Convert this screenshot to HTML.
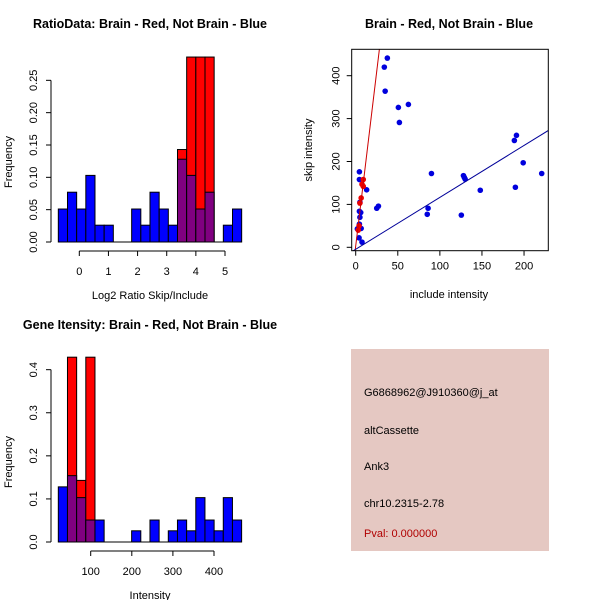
<!DOCTYPE html>
<html><head><meta charset="utf-8"><style>
body{margin:0;background:#fff}
svg{display:block;font-family:"Liberation Sans",sans-serif}
</style></head><body>
<svg id="s" width="600" height="600" xmlns="http://www.w3.org/2000/svg">
<rect width="600" height="600" fill="#fff"/>
<text x="150" y="28" font-size="12.5" font-weight="bold" text-anchor="middle">RatioData: Brain - Red, Not Brain - Blue</text>
<text x="449" y="28" font-size="12.5" font-weight="bold" text-anchor="middle">Brain - Red, Not Brain - Blue</text>
<text x="150" y="329" font-size="12.5" font-weight="bold" text-anchor="middle">Gene Itensity: Brain - Red, Not Brain - Blue</text>
<g>
<rect x="351" y="349" width="198" height="202" fill="#e5c8c2"/>
<text x="364" y="396" font-size="11">G6868962@J910360@j_at</text>
<text x="364" y="434" font-size="11">altCassette</text>
<text x="364" y="470" font-size="11">Ank3</text>
<text x="364" y="507" font-size="11">chr10.2315-2.78</text>
<text x="364" y="537" font-size="11" fill="#b00000">Pval: 0.000000</text>
</g>
</svg>
<script>
const NS="http://www.w3.org/2000/svg";
const svg=document.getElementById('s');
function mk(t,a,p){const e=document.createElementNS(NS,t);for(const k in a)e.setAttribute(k,a[k]);(p||svg).appendChild(e);return e;}

// ---- Chart 1 data ----
const ratioBinStart=-0.72, ratioBinWidth=0.3146;
const ratioBlue=[0.051,0.077,0.051,0.103,0.026,0.026,0,0,0.051,0.026,0.077,0.051,0.026,0.128,0.103,0.051,0.077,0,0.026,0.051];
const ratioRed=[0,0,0,0,0,0,0,0,0,0,0,0,0,0.143,0.286,0.286,0.286,0,0,0];
const ratioXTicks=[0,1,2,3,4,5];
const ratioYTicks=[0,0.05,0.10,0.15,0.20,0.25];
const ratioYLabels=["0.00","0.05","0.10","0.15","0.20","0.25"];

// ---- Chart 3 data ----
const intBinStart=21.2, intBinWidth=22.3;
const intBlue=[0.128,0.154,0.103,0.051,0.051,0,0,0,0.026,0,0.051,0,0.026,0.051,0.026,0.103,0.051,0.026,0.103,0.051];
const intRed=[0,0.429,0.143,0.429,0,0,0,0,0,0,0,0,0,0,0,0,0,0,0,0];
const intXTicks=[100,200,300,400];
const intYTicks=[0,0.1,0.2,0.3,0.4];
const intYLabels=["0.0","0.1","0.2","0.3","0.4"];

// ---- Chart 2 data ----
const blueX=[37.6,34,35,50.7,62.6,51.9,4.4,4.4,13,5,4.4,6,5,4.4,3,5,6.5,2,4,7.5,25,27,86,85,90,125.5,128,129,130,148,188.5,191,189.7,199,221];
const blueY=[441,420,364,326,333,291,176,158,134,105,84,81,70,54,42,45,44,43,22,12,91,96,91,77,172,75,167,163,159,133,249,261,140,197,172];
const redX=[9,7.5,9,6.5,5,4,3];
const redY=[158,147,142,115,103,50,40];
const redLine=[3,16.3];   // intercept, slope
const blueLine=[-4.6,1.21];
const scXTicks=[0,50,100,150,200];
const scYTicks=[0,100,200,300,400];

function hist(o){
  const g=mk('g',{});
  const X=v=>o.x0+(v-o.xv0)*o.xs, Y=v=>o.y0-v*o.ys;
  const n=o.blue.length;
  for(let i=0;i<n;i++){
    const l=X(o.bs+i*o.bw), r=X(o.bs+(i+1)*o.bw);
    const b=o.blue[i], rd=o.red[i], m=Math.min(b,rd), M=Math.max(b,rd);
    if(M>0){
      const e=mk('rect',{x:l,y:Y(M),width:r-l,height:Y(0)-Y(M),fill:rd>b?'#ff0000':'#0000ff',stroke:'#000','stroke-width':1},g);
      
      
    }
    if(m>0){
      const e=mk('rect',{x:l,y:Y(m),width:r-l,height:Y(0)-Y(m),fill:'#800080',stroke:'#000','stroke-width':1},g);
      
      
    }
  }
  mk('line',{x1:X(o.bs),x2:X(o.bs+n*o.bw),y1:Y(0),y2:Y(0),stroke:'#000'},g);
  const ya=mk('g',{},g);
  
  const yt=o.yt;
  mk('line',{x1:51,x2:51,y1:Y(yt[0]),y2:Y(yt[yt.length-1]),stroke:'#000'},ya);
  yt.forEach((v,i)=>{
    mk('line',{x1:46,x2:51,y1:Y(v),y2:Y(v),stroke:'#000'},ya);
    const t=mk('text',{x:0,y:0,'font-size':11,'text-anchor':'middle',transform:`translate(37,${Y(v)}) rotate(-90)`},ya);
    t.textContent=o.yl[i];
  });
  const yl=mk('text',{x:0,y:0,'font-size':11,'text-anchor':'middle',transform:`translate(12,${o.y0-80}) rotate(-90)`},g);
  yl.textContent='Frequency';
  
  const xa=mk('g',{},g);
  
  const xt=o.xt, ay=o.y0+9;
  mk('line',{x1:X(xt[0]),x2:X(xt[xt.length-1]),y1:ay,y2:ay,stroke:'#000'},xa);
  xt.forEach(v=>{
    mk('line',{x1:X(v),x2:X(v),y1:ay,y2:ay+5,stroke:'#000'},xa);
    const t=mk('text',{x:X(v),y:ay+24,'font-size':11,'text-anchor':'middle'},xa);t.textContent=v;
  });
  const xl=mk('text',{x:150,y:o.y0+57,'font-size':11,'text-anchor':'middle'},g);
  xl.textContent=o.xlabel;
  
}
hist({name:'ratio-histogram',x0:79.3,xv0:0,xs:29.14,y0:242,ys:646.7,bs:ratioBinStart,bw:ratioBinWidth,blue:ratioBlue,red:ratioRed,xt:ratioXTicks,yt:ratioYTicks,yl:ratioYLabels,xlabel:'Log2 Ratio Skip/Include'});
hist({name:'intensity-histogram',x0:90.7,xv0:100,xs:0.411,y0:542,ys:430.8,bs:intBinStart,bw:intBinWidth,blue:intBlue,red:intRed,xt:intXTicks,yt:intYTicks,yl:intYLabels,xlabel:'Intensity'});

(function(){
  const g=mk('g',{});
  const X=v=>355.7+v*0.8417, Y=v=>247.3-v*0.429;
  const L=351.7,R=548.3,T=49.3,B=250.7;
  const cp=mk('clipPath',{id:'cp'},g);mk('rect',{x:L,y:T,width:R-L,height:B-T},cp);
  const pts=mk('g',{'clip-path':'url(#cp)'},g);
  blueX.forEach((x,i)=>{
    const c=mk('circle',{cx:X(x),cy:Y(blueY[i]),r:2.8,fill:'#0000dd'},pts);
    
  });
  redX.forEach((x,i)=>{
    const c=mk('circle',{cx:X(x),cy:Y(redY[i]),r:2.8,fill:'#ee0000'},pts);
    
  });
  const xa=-10,xb=240;
  const rl=mk('line',{x1:X(xa),y1:Y(redLine[0]+redLine[1]*xa),x2:X(xb),y2:Y(redLine[0]+redLine[1]*xb),stroke:'#cc0000'},pts);
  
  const bl=mk('line',{x1:X(xa),y1:Y(blueLine[0]+blueLine[1]*xa),x2:X(xb),y2:Y(blueLine[0]+blueLine[1]*xb),stroke:'#000099'},pts);
  
  mk('rect',{x:L,y:T,width:R-L,height:B-T,fill:'none',stroke:'#000'},g);
  scXTicks.forEach(v=>{
    mk('line',{x1:X(v),x2:X(v),y1:B,y2:B+5,stroke:'#000'},g);
    const t=mk('text',{x:X(v),y:B+19,'font-size':11,'text-anchor':'middle'},g);t.textContent=v;
  });
  scYTicks.forEach(v=>{
    mk('line',{x1:L-5,x2:L,y1:Y(v),y2:Y(v),stroke:'#000'},g);
    const t=mk('text',{x:0,y:0,'font-size':11,'text-anchor':'middle',transform:`translate(${L-12},${Y(v)}) rotate(-90)`},g);t.textContent=v;
  });
  const xl=mk('text',{x:449,y:298,'font-size':11,'text-anchor':'middle'},g);xl.textContent='include intensity';
  
  const yl=mk('text',{x:0,y:0,'font-size':11,'text-anchor':'middle',transform:'translate(312,150) rotate(-90)'},g);yl.textContent='skip intensity';
  
})();
</script>
</body></html>
